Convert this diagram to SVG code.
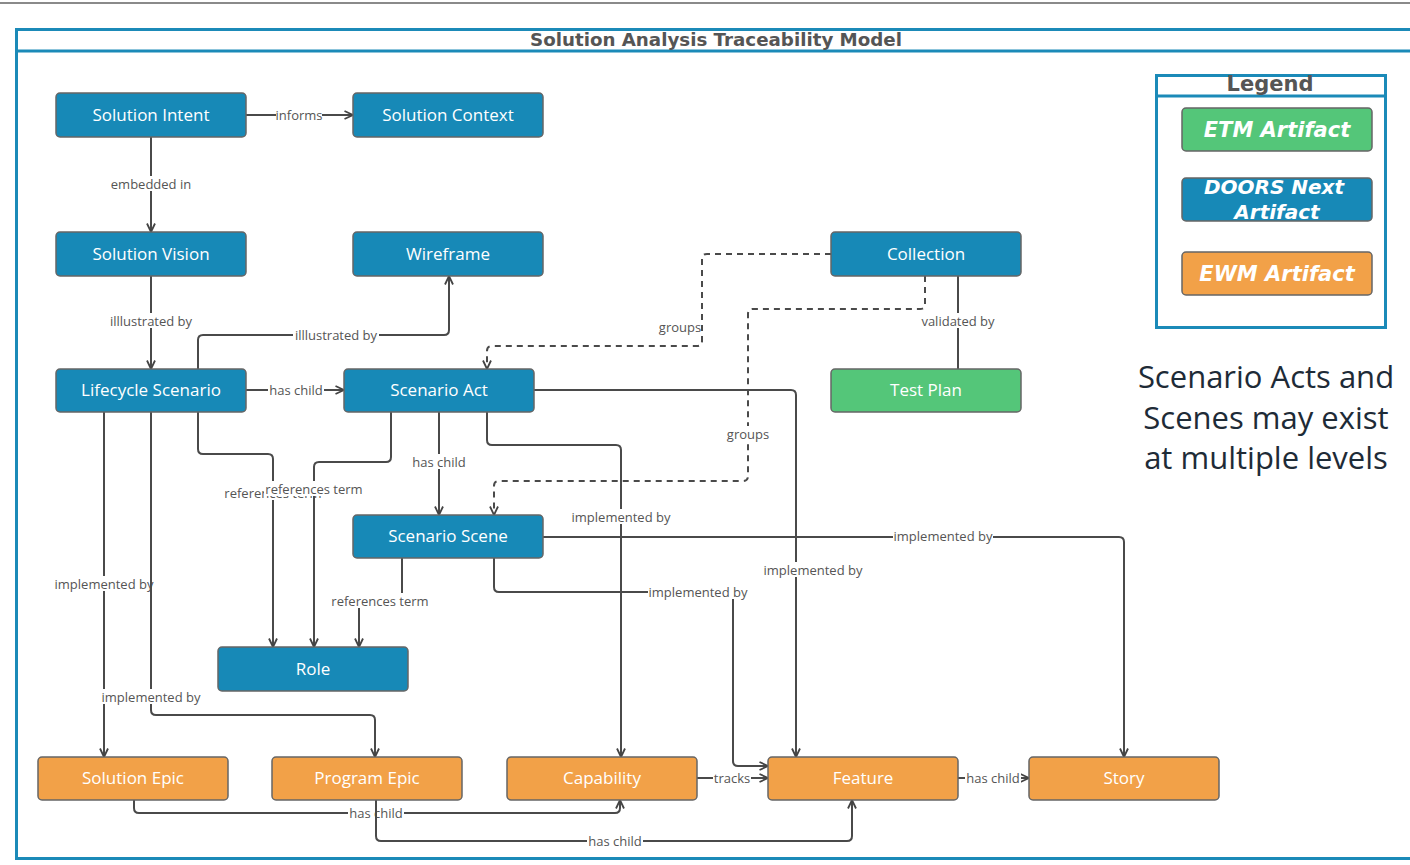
<svg xmlns="http://www.w3.org/2000/svg" width="1410" height="865" viewBox="0 0 1410 865">
<style>
.frame{fill:none;stroke:#1b8ab8;stroke-width:3}
.node rect{stroke:#666;stroke-width:1.5}
.blue rect{fill:#1789b7}
.orange rect{fill:#f2a148}
.green rect{fill:#54c679}
.node text{font-family:"Open Sans","Liberation Sans",sans-serif;font-size:17px;fill:#fff;text-anchor:middle}
.edge{fill:none;stroke:#4a4a4a;stroke-width:2}
.dash{stroke-dasharray:6 5}
.lbg{fill:#fff}
.lbl{font-family:"Open Sans","Liberation Sans",sans-serif;font-size:13px;fill:#555;text-anchor:middle}
.leg text{font-family:"DejaVu Sans","Open Sans",sans-serif;font-size:21px;font-weight:bold;font-style:italic;fill:#fff;text-anchor:middle}
</style>
<defs>
<marker id="arr" viewBox="0 0 10 10" refX="9.5" refY="5" markerWidth="10" markerHeight="10" markerUnits="userSpaceOnUse" orient="auto">
<path d="M1,1 L9.5,5 L1,9" fill="none" stroke="#444" stroke-width="1.8"/>
</marker>
</defs>
<rect width="1410" height="865" fill="#fff"/>
<line x1="0" y1="3" x2="1410" y2="3" stroke="#8a8a8a" stroke-width="2"/>
<g id="frame">
<rect class="frame" x="16.5" y="29.5" width="1420" height="829"/>
<line x1="16" y1="51" x2="1410" y2="51" stroke="#1b8ab8" stroke-width="3"/>
<text x="716" y="46" font-family="'DejaVu Sans','Open Sans',sans-serif" font-size="17" font-weight="bold" fill="#555" text-anchor="middle" textLength="372" lengthAdjust="spacingAndGlyphs">Solution Analysis Traceability Model</text>
</g>

<g id="connectors">
<path class="edge" d="M246,115 H353" marker-end="url(#arr)"/>
<rect class="lbg" x="276" y="107" width="46" height="15"/><text class="lbl" x="299" y="119.5">informs</text>

<path class="edge" d="M151,137 V232" marker-end="url(#arr)"/>
<rect class="lbg" x="113" y="176" width="76" height="15"/><text class="lbl" x="151" y="188.5">embedded in</text>

<path class="edge" d="M151,276 V369" marker-end="url(#arr)"/>
<rect class="lbg" x="108" y="313" width="86" height="15"/><text class="lbl" x="151" y="325.5">illlustrated by</text>

<path class="edge" d="M198,369 V340 Q198,335 203,335 H444 Q449,335 449,330 V276" marker-end="url(#arr)"/>
<rect class="lbg" x="293" y="327" width="86" height="15"/><text class="lbl" x="336" y="339.5">illlustrated by</text>

<path class="edge" d="M246,390 H344" marker-end="url(#arr)"/>
<rect class="lbg" x="268" y="382" width="56" height="15"/><text class="lbl" x="296" y="394.5">has child</text>

<path class="edge dash" d="M831,254 H707 Q702,254 702,259 V341 Q702,346 697,346 H492 Q487,346 487,351 V369" marker-end="url(#arr)"/>
<rect class="lbg" x="658" y="319" width="43" height="15"/><text class="lbl" x="680" y="331.5">groups</text>

<path class="edge dash" d="M925,276 V304 Q925,309 920,309 H753 Q748,309 748,314 V476 Q748,481 743,481 H499 Q494,481 494,486 V515" marker-end="url(#arr)"/>
<rect class="lbg" x="726" y="426" width="44" height="15"/><text class="lbl" x="748" y="438.5">groups</text>

<path class="edge" d="M958,276 V369"/>
<rect class="lbg" x="921" y="313" width="74" height="15"/><text class="lbl" x="958" y="325.5">validated by</text>

<path class="edge" d="M439,412 V515" marker-end="url(#arr)"/>
<rect class="lbg" x="411" y="454" width="56" height="15"/><text class="lbl" x="439" y="466.5">has child</text>

<path class="edge" d="M198,412 V449 Q198,454 203,454 H268 Q273,454 273,459 V647" marker-end="url(#arr)"/>
<rect class="lbg" x="223" y="485" width="100" height="15"/><text class="lbl" x="273" y="497.5">references term</text>

<path class="edge" d="M391,412 V457 Q391,462 386,462 H319 Q314,462 314,467 V647" marker-end="url(#arr)"/>
<rect class="lbg" x="264" y="481" width="100" height="15"/><text class="lbl" x="314" y="493.5">references term</text>

<path class="edge" d="M402,558 V596 Q402,601 397,601 H364 Q359,601 359,606 V647" marker-end="url(#arr)"/>
<rect class="lbg" x="330" y="593" width="100" height="15"/><text class="lbl" x="380" y="605.5">references term</text>

<path class="edge" d="M487,412 V440 Q487,445 492,445 H616 Q621,445 621,450 V757" marker-end="url(#arr)"/>
<rect class="lbg" x="571" y="509" width="100" height="15"/><text class="lbl" x="621" y="521.5">implemented by</text>

<path class="edge" d="M534,390 H791 Q796,390 796,395 V757" marker-end="url(#arr)"/>
<rect class="lbg" x="763" y="562" width="100" height="15"/><text class="lbl" x="813" y="574.5">implemented by</text>

<path class="edge" d="M543,537 H1119 Q1124,537 1124,542 V757" marker-end="url(#arr)"/>
<rect class="lbg" x="893" y="529" width="100" height="15"/><text class="lbl" x="943" y="540.5">implemented by</text>

<path class="edge" d="M494,558 V587 Q494,592 499,592 H728 Q733,592 733,597 V761 Q733,766 738,766 H768" marker-end="url(#arr)"/>
<rect class="lbg" x="648" y="584" width="100" height="15"/><text class="lbl" x="698" y="596.5">implemented by</text>

<path class="edge" d="M104,412 V757" marker-end="url(#arr)"/>
<rect class="lbg" x="54" y="576" width="100" height="15"/><text class="lbl" x="104" y="588.5">implemented by</text>

<path class="edge" d="M151,412 V710 Q151,715 156,715 H370 Q375,715 375,720 V757" marker-end="url(#arr)"/>
<rect class="lbg" x="101" y="689" width="100" height="15"/><text class="lbl" x="151" y="701.5">implemented by</text>

<path class="edge" d="M697,778 H768" marker-end="url(#arr)"/>
<rect class="lbg" x="713" y="770" width="38" height="15"/><text class="lbl" x="732" y="782.5">tracks</text>

<path class="edge" d="M958,778 H1029" marker-end="url(#arr)"/>
<rect class="lbg" x="965" y="770" width="56" height="15"/><text class="lbl" x="993" y="782.5">has child</text>

<path class="edge" d="M134,800 V808 Q134,813 139,813 H615 Q620,813 620,808 V800" marker-end="url(#arr)"/>
<rect class="lbg" x="348" y="805" width="56" height="15"/><text class="lbl" x="376" y="817.5">has child</text>

<path class="edge" d="M376,800 V836 Q376,841 381,841 H847 Q852,841 852,836 V800" marker-end="url(#arr)"/>
<rect class="lbg" x="587" y="833" width="56" height="15"/><text class="lbl" x="615" y="845.5">has child</text>
</g>

<g id="n-solution-intent" class="node blue"><rect x="56" y="93" width="190" height="44" rx="4"/><text x="151" y="121">Solution Intent</text></g>
<g id="n-solution-context" class="node blue"><rect x="353" y="93" width="190" height="44" rx="4"/><text x="448" y="121">Solution Context</text></g>
<g id="n-solution-vision" class="node blue"><rect x="56" y="232" width="190" height="44" rx="4"/><text x="151" y="260">Solution Vision</text></g>
<g id="n-wireframe" class="node blue"><rect x="353" y="232" width="190" height="44" rx="4"/><text x="448" y="260">Wireframe</text></g>
<g id="n-collection" class="node blue"><rect x="831" y="232" width="190" height="44" rx="4"/><text x="926" y="260">Collection</text></g>
<g id="n-lifecycle-scenario" class="node blue"><rect x="56" y="369" width="190" height="43" rx="4"/><text x="151" y="396">Lifecycle Scenario</text></g>
<g id="n-scenario-act" class="node blue"><rect x="344" y="369" width="190" height="43" rx="4"/><text x="439" y="396">Scenario Act</text></g>
<g id="n-test-plan" class="node green"><rect x="831" y="369" width="190" height="43" rx="4"/><text x="926" y="396">Test Plan</text></g>
<g id="n-scenario-scene" class="node blue"><rect x="353" y="515" width="190" height="43" rx="4"/><text x="448" y="542">Scenario Scene</text></g>
<g id="n-role" class="node blue"><rect x="218" y="647" width="190" height="44" rx="4"/><text x="313" y="675">Role</text></g>
<g id="n-solution-epic" class="node orange"><rect x="38" y="757" width="190" height="43" rx="4"/><text x="133" y="784">Solution Epic</text></g>
<g id="n-program-epic" class="node orange"><rect x="272" y="757" width="190" height="43" rx="4"/><text x="367" y="784">Program Epic</text></g>
<g id="n-capability" class="node orange"><rect x="507" y="757" width="190" height="43" rx="4"/><text x="602" y="784">Capability</text></g>
<g id="n-feature" class="node orange"><rect x="768" y="757" width="190" height="43" rx="4"/><text x="863" y="784">Feature</text></g>
<g id="n-story" class="node orange"><rect x="1029" y="757" width="190" height="43" rx="4"/><text x="1124" y="784">Story</text></g>

<g id="legend" class="leg">
<rect x="1156.5" y="75.5" width="229" height="252" fill="#fff" stroke="#1b8ab8" stroke-width="3"/>
<line x1="1156" y1="96" x2="1386" y2="96" stroke="#1b8ab8" stroke-width="3"/>
<text x="1270" y="91" style="font-style:normal;fill:#555;font-size:21px">Legend</text>
<g class="node green"><rect x="1182" y="108" width="190" height="43" rx="4"/></g>
<text x="1277" y="137">ETM Artifact</text>
<g class="node blue"><rect x="1182" y="178" width="190" height="43" rx="4"/></g>
<text x="1274" y="194" style="font-size:20px">DOORS Next</text>
<text x="1277" y="219" style="font-size:20px">Artifact</text>
<g class="node orange"><rect x="1182" y="252" width="190" height="43" rx="4"/></g>
<text x="1277" y="281">EWM Artifact</text>
</g>

<g id="note" font-family="'Open Sans','Noto Sans',sans-serif" font-size="31" fill="#1e2b37" text-anchor="middle">
<text x="1266" y="388">Scenario Acts and</text>
<text x="1266" y="429">Scenes may exist</text>
<text x="1266" y="469">at multiple levels</text>
</g>
</svg>
